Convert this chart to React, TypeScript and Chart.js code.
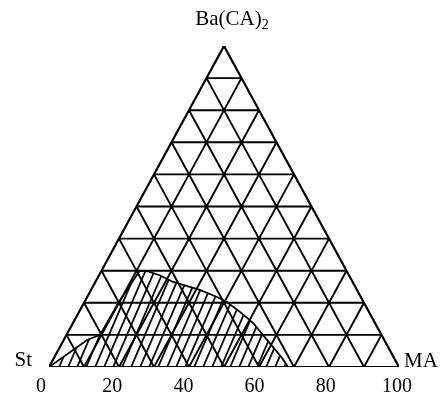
import React, { useEffect, useRef } from "react";
import { Chart, registerables } from "chart.js";

Chart.register(...registerables);

// Ternary grid levels (percent)
const gridLevels = [10, 20, 30, 40, 50, 60, 70, 80, 90];
// Bottom axis tick labels (MA %)
const baseTicks = [0, 20, 40, 60, 80, 100];
// Boundary of hatched region, ternary composition: MA % and Ba(CA)2 %
const regionMA = [0, 6.7, 9.6, 9.8, 10.9, 13.5, 17.5, 22.2, 31.1, 37.1, 40.8, 46.1, 51.5, 56.1, 60.9, 65.2, 68.3];
const regionBa = [0, 8.4, 10, 19.9, 30, 29.8, 28.5, 26.5, 24, 21.8, 20.2, 17.1, 13.7, 10, 6.2, 2.8, 0];
// Triangle corners: [MA %, Ba %]
const cornerMA = [0, 100, 0, 0];
const cornerBa = [0, 0, 100, 0];
const cornerLabels = { top: "Ba(CA)", topSub: "2", left: "St", right: "MA" };

const FONT = "'Liberation Serif', 'Times New Roman', serif";

function toXY(ma: number, ba: number) {
  return { x: ma + ba / 2, y: ba };
}

const GAP = { x: NaN, y: NaN };

function gridPoints() {
  const pts: { x: number; y: number }[] = [];
  gridLevels.forEach((k) => {
    pts.push(toXY(0, k), toXY(100 - k, k), GAP);
    pts.push(toXY(k, 0), toXY(k, 100 - k), GAP);
    pts.push(toXY(100 - k, 0), toXY(0, 100 - k), GAP);
  });
  return pts;
}

const labelPlugin = {
  id: "cornerLabels",
  afterDraw(chart: any) {
    const { ctx, chartArea } = chart;
    const xs = chart.scales.x;
    const ys = chart.scales.y;
    ctx.save();
    ctx.fillStyle = "#000";
    const apexX = xs.getPixelForValue(50);
    const apexY = ys.getPixelForValue(100);
    ctx.font = `21px ${FONT}`;
    const w1 = ctx.measureText(cornerLabels.top).width;
    ctx.font = `14px ${FONT}`;
    const w2 = ctx.measureText(cornerLabels.topSub).width;
    const startX = apexX + 8 - (w1 + w2) / 2;
    ctx.textBaseline = "alphabetic";
    ctx.textAlign = "left";
    ctx.font = `21px ${FONT}`;
    ctx.fillText(cornerLabels.top, startX, apexY - 21);
    ctx.font = `14px ${FONT}`;
    ctx.fillText(cornerLabels.topSub, startX + w1, apexY - 17);
    ctx.font = `21px ${FONT}`;
    ctx.textAlign = "right";
    ctx.fillText(cornerLabels.left, chartArea.left - 17, chartArea.bottom - 1);
    ctx.textAlign = "left";
    ctx.fillText(cornerLabels.right, chartArea.right + 5, chartArea.bottom);
    ctx.restore();
  },
};

export default function App() {
  const ref = useRef<HTMLCanvasElement | null>(null);
  useEffect(() => {
    const canvas = ref.current!;
    const ctx = canvas.getContext("2d")!;
    const tile = document.createElement("canvas");
    tile.width = 9;
    tile.height = 9;
    const tc = tile.getContext("2d")!;
    tc.fillStyle = "#000";
    tc.fillRect(0, 0, 1.9, 9);
    const pattern = ctx.createPattern(tile, "repeat")!;
    pattern.setTransform(new DOMMatrix([1, 0, -0.43, 1, 0, 0]));

    const chart = new Chart(canvas, {
      type: "line",
      data: {
        datasets: [
          {
            label: "region",
            data: regionMA.map((m, i) => toXY(m, regionBa[i])),
            borderColor: "#000",
            borderWidth: 1.8,
            backgroundColor: pattern as any,
            fill: "origin",
            pointRadius: 0,
            tension: 0,
          },
          {
            label: "grid",
            data: gridPoints(),
            borderColor: "#000",
            borderWidth: 1.9,
            pointRadius: 0,
            fill: false,
            spanGaps: false,
          },
          {
            label: "frame",
            data: cornerMA.map((m, i) => toXY(m, cornerBa[i])),
            borderColor: "#000",
            borderWidth: 2.2,
            pointRadius: 0,
            fill: false,
          },
        ],
      },
      options: {
        animation: false,
        responsive: false,
        events: [],
        layout: { padding: { left: 49, right: 42, top: 46, bottom: 0 } },
        plugins: { legend: { display: false }, tooltip: { enabled: false }, title: { display: false } },
        scales: {
          x: {
            type: "linear",
            min: 0,
            max: 100,
            display: false,
          },
          xt: {
            type: "linear",
            axis: "x",
            position: "bottom",
            min: 2.25,
            max: 100.56,
            afterBuildTicks: (s: any) => {
              s.ticks = baseTicks.map((v) => ({ value: v }));
            },
            afterFit: (s: any) => {
              s.height = 34;
            },
            grid: { display: false, drawTicks: false },
            border: { display: false },
            ticks: { color: "#000", font: { family: FONT, size: 20 }, padding: 8, maxRotation: 0, autoSkip: false },
          },
          y: { type: "linear", display: false, min: 0, max: 100 },
        },
      },
      plugins: [labelPlugin],
    });
    return () => chart.destroy();
  }, []);
  return (
    <div style={{ position: "fixed", left: 0, top: 0, width: 441, height: 401, background: "#fff" }}>
      <canvas ref={ref} width={441} height={401} style={{ display: "block" }} />
    </div>
  );
}
